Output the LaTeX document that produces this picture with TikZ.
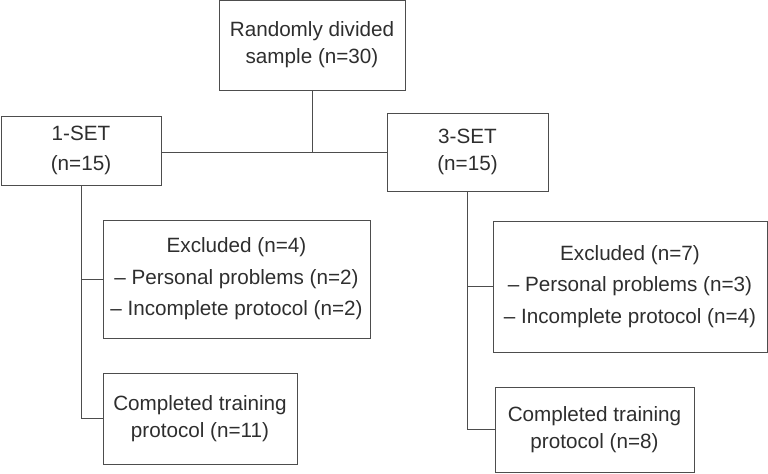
\documentclass[tikz,border=0pt]{standalone}
\usepackage{fontspec}
\setmainfont{Liberation Sans}
\usepackage{tikz}

\definecolor{boxline}{HTML}{4D4D4D}
\definecolor{boxtext}{HTML}{2E2E2E}

\tikzset{
  box/.style={draw=boxline,line width=0.7pt,inner sep=0pt,align=center,
    text=boxtext,font=\fontsize{14.7}{19}\selectfont},
  boxsize/.style 2 args={minimum width=#1*0.025cm,minimum height=#2*0.025cm},
  link/.style={draw=boxline,line width=0.7pt}
}

\begin{document}
\begin{tikzpicture}[x=0.025cm,y=-0.025cm]
\useasboundingbox (0,0) rectangle (768,473);
\node [box,boxsize={186}{90}] (top) at (312,45)
  {Randomly divided\\ sample (n=30)};
\node [box,boxsize={160}{69},font=\fontsize{14.7}{21}\selectfont] (set1) at (81,150.5)
  {1-SET\\(n=15)};
\node [box,boxsize={161}{78}] (set3) at (467.5,152)
  {3-SET\\(n=15)};
\node [box,boxsize={267}{118},font=\fontsize{14.7}{22.5}\selectfont] (exc1) at (236.5,279)
  {Excluded (n=4)\\– Personal problems (n=2)\\– Incomplete protocol (n=2)};
\node [box,boxsize={194}{91}] (comp1) at (200,418.5)
  {Completed training\\protocol (n=11)};
\node [box,boxsize={274}{131},font=\fontsize{14.7}{22.5}\selectfont] (exc3) at (630,286.5)
  {Excluded (n=7)\\– Personal problems (n=3)\\– Incomplete protocol (n=4)};
\node [box,boxsize={199}{85}] (comp3) at (594.5,429.5)
  {Completed training\\protocol (n=8)};

\draw [link] (top.south) -- (top.south |- set3.west);
\draw [link] (set3.west) -- (set3.west -| set1.east);
\draw [link] (set1.south) -- (set1.south |- comp1.west) -- (comp1.west);
\draw [link] (exc1.west -| set1.south) -- (exc1.west);
\draw [link] (set3.south) -- (set3.south |- comp3.west) -- (comp3.west);
\draw [link] (exc3.west -| set3.south) -- (exc3.west);
\end{tikzpicture}
\end{document}
